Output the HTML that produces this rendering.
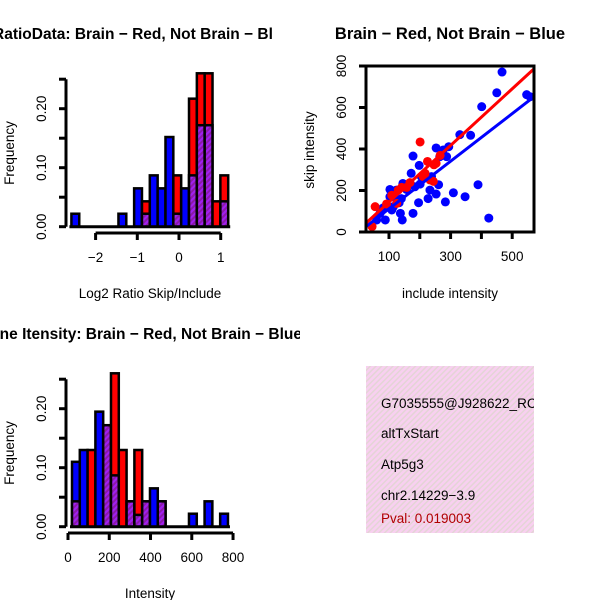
<!DOCTYPE html>
<html><head><meta charset="utf-8"><style>
html,body{margin:0;padding:0;background:#fff;}
svg{display:block;font-family:"Liberation Sans",sans-serif;}
</style></head><body>
<svg id="s" width="600" height="600" viewBox="0 0 600 600">
<defs>
<pattern id="hatch" width="4" height="4" patternUnits="userSpaceOnUse" patternTransform="rotate(45)">
<rect width="4" height="4" fill="#8a1aa8"/><rect width="2" height="4" fill="#a020f0"/></pattern>
<pattern id="pink" width="4" height="4" patternUnits="userSpaceOnUse" patternTransform="rotate(45)">
<rect width="4" height="4" fill="#f8d0f0"/><rect width="1.5" height="4" fill="#e4d4d6"/></pattern>
<clipPath id="clipBox"><rect x="366" y="366" width="168" height="167"/></clipPath>
<clipPath id="clipT1"><rect x="0" y="0" width="273" height="60"/></clipPath>
<clipPath id="clipT3"><rect x="0" y="300" width="300" height="60"/></clipPath>
</defs>
<text x="-7" y="39" font-weight="bold" font-size="15.5" clip-path="url(#clipT1)">RatioData: Brain − Red, Not Brain − Blue</text>
<text x="450" y="39" text-anchor="middle" font-weight="bold" font-size="16.5">Brain − Red, Not Brain − Blue</text>
<text x="-21" y="339" font-weight="bold" font-size="15.5" clip-path="url(#clipT3)">Gene Itensity: Brain − Red, Not Brain − Blue</text>
<text x="150" y="298" text-anchor="middle" font-size="13.5">Log2 Ratio Skip/Include</text>
<text x="150" y="598" text-anchor="middle" font-size="13.5">Intensity</text>
<text transform="translate(14,153) rotate(-90)" text-anchor="middle" font-size="13.5">Frequency</text>
<text transform="translate(14,453) rotate(-90)" text-anchor="middle" font-size="13.5">Frequency</text>
<text x="450" y="298" text-anchor="middle" font-size="13.5">include intensity</text>
<text transform="translate(314,150) rotate(-90)" text-anchor="middle" font-size="13.5">skip intensity</text>
<g>
<rect x="366" y="366" width="168" height="167" fill="url(#pink)"/>
<g clip-path="url(#clipBox)" font-size="13.5">
<text x="381" y="408">G7035555@J928622_RC</text>
<text x="381" y="438">altTxStart</text>
<text x="381" y="469">Atp5g3</text>
<text x="381" y="500">chr2.14229−3.9</text>
<text x="381" y="523" fill="#b00000">Pval: 0.019003</text>
</g></g>
</svg>
<script>
// Ratio histogram data
const ratioBinStart = -2.58, ratioBinWidth = 0.188;
const ratioBlue = [0.022,0,0,0,0,0,0.022,0,0.065,0.022,0.087,0.065,0.152,0.022,0.065,0.087,0.172,0.172,0,0.043];
const ratioRed  = [0,0,0,0,0,0,0,0,0,0.043,0,0,0,0.087,0,0.217,0.26,0.26,0.043,0.087];
const ratioXTicks = [-2,-1,0,1];
const freqTicks = [0,0.05,0.10,0.15,0.20,0.25];
const freqLabels = ["0.00","","0.10","","0.20",""];
// Intensity histogram data
const intBinStart = 19.4, intBinWidth = 37.8;
const intBlue = [0.11,0.13,0,0.195,0.172,0.087,0,0.043,0.02,0.043,0.065,0.043,0,0,0,0.022,0,0.043,0,0.022];
const intRed  = [0.043,0,0.13,0,0.172,0.26,0.13,0.043,0.13,0.043,0,0.043,0,0,0,0,0,0,0,0];
const intXTicks = [0,200,400,600,800];
// Scatter data
const blueX = [467,450,401,547,558,330,365,389,424,347,309,283,253,287,294,261,253,227,233,198,196,201,178,172,178,145,143,137,133,140,124,103,103,81,71,60,88,109,114,125,157,184,205,238,265,276];
const blueY = [771,671,604,662,652,469,466,228,67,170,189,145,405,363,411,228,183,161,202,321,141,231,366,283,90,234,58,90,141,161,202,205,170,116,90,58,58,106,122,154,205,218,267,267,363,395];
const redX = [45,55,92,109,130,141,168,201,225,246,253,233,244,217,211,266,125,157];
const redY = [26,122,135,177,202,215,238,434,340,324,331,251,244,283,267,369,138,215];
const redFit = [8,1.364];   // intercept, slope
const blueFit = [-3,1.147];
const scXTicks = [100,200,300,400,500];
const scXLabels = ["100","","300","","500"];
const scYTicks = [0,200,400,600,800];

const NS="http://www.w3.org/2000/svg", svg=document.getElementById('s');
function mk(tag,attrs,parent){const e=document.createElementNS(NS,tag);for(const k in attrs)e.setAttribute(k,attrs[k]);(parent||svg).appendChild(e);return e;}

function hist(blue,red,bs,bw,xTicks,xs,ys,base,axisY,name,tickLbl){
  const g=mk('g',{});
  
  
  for(let i=0;i<blue.length;i++){
    const b=blue[i],r=red[i],hi=Math.max(b,r),lo=Math.min(b,r);
    if(hi<=0)continue;
    const x0=xs(bs+i*bw),x1=xs(bs+(i+1)*bw);
    const top=mk('rect',{x:x0,y:ys(hi),width:x1-x0,height:ys(0)-ys(hi),fill:b>=r?'#0000ff':'#ff0000',stroke:'#000','stroke-width':2.5},g);
    
    
    if(lo>0){
      const o=mk('rect',{x:x0,y:ys(lo),width:x1-x0,height:ys(0)-ys(lo),fill:'url(#hatch)',stroke:'#000','stroke-width':2.5},g);
      
      
    }
  }
  const ax=66;
  const ya=mk('line',{x1:ax,x2:ax,y1:ys(0),y2:ys(0.25),stroke:'#000','stroke-width':3},g);
  
  
  freqTicks.forEach((t,i)=>{
    mk('line',{x1:ax-7,x2:ax,y1:ys(t),y2:ys(t),stroke:'#000','stroke-width':3},g);
    if(freqLabels[i]){const tx=mk('text',{transform:`translate(46,${ys(t)}) rotate(-90)`,'text-anchor':'middle','font-size':13.5},g);tx.textContent=freqLabels[i];
      
      }
  });
  const base0=mk('line',{x1:xs(bs)-2,x2:xs(bs+blue.length*bw)+2,y1:ys(0),y2:ys(0),stroke:'#000','stroke-width':3},g);
  
  
  const xa=mk('line',{x1:xs(xTicks[0]),x2:xs(xTicks[xTicks.length-1]),y1:axisY,y2:axisY,stroke:'#000','stroke-width':3},g);
  
  
  xTicks.forEach(t=>{
    mk('line',{x1:xs(t),x2:xs(t),y1:axisY,y2:axisY+7,stroke:'#000','stroke-width':3},g);
    const tx=mk('text',{x:xs(t),y:axisY+29,'text-anchor':'middle','font-size':13.5},g);
    tx.textContent=tickLbl(t);
    
    
  });
}
hist(ratioBlue,ratioRed,ratioBinStart,ratioBinWidth,ratioXTicks,v=>179+v*41.7,v=>226.7-v*590,226.7,233,'ratio-histogram',t=>t<0?'−'+(-t):String(t));
hist(intBlue,intRed,intBinStart,intBinWidth,intXTicks,v=>68+v*0.2063,v=>526.7-v*590,526.7,533,'intensity-histogram',t=>String(t));

const sx=v=>389+(v-100)*0.308, sy=v=>232-v*166/800;
const sg=mk('g',{});


blueX.forEach((x,i)=>{const c=mk('circle',{cx:sx(x),cy:sy(blueY[i]),r:4.5,fill:'#0000ff'},sg);
  
  });
redX.forEach((x,i)=>{const c=mk('circle',{cx:sx(x),cy:sy(redY[i]),r:4.5,fill:'#ff0000'},sg);
  
  });
[[blueFit,'#0000ff','fit-line-blue'],[redFit,'#ff0000','fit-line-red']].forEach(([f,col,n])=>{
  const x0=25,x1=571;
  const l=mk('line',{x1:sx(x0),y1:sy(f[0]+f[1]*x0),x2:sx(x1),y2:sy(f[0]+f[1]*x1),stroke:col,'stroke-width':3},sg);
  
  
});
const box=mk('rect',{x:366,y:66,width:168,height:166,fill:'none',stroke:'#000','stroke-width':3},sg);


scXTicks.forEach((t,i)=>{
  mk('line',{x1:sx(t),x2:sx(t),y1:232,y2:239,stroke:'#000','stroke-width':3},sg);
  if(scXLabels[i]){const tx=mk('text',{x:sx(t),y:261,'text-anchor':'middle','font-size':13.5},sg);tx.textContent=scXLabels[i];
    
    }
});
scYTicks.forEach(t=>{
  mk('line',{x1:359,x2:366,y1:sy(t),y2:sy(t),stroke:'#000','stroke-width':3},sg);
  const tx=mk('text',{transform:`translate(346,${sy(t)}) rotate(-90)`,'text-anchor':'middle','font-size':13.5},sg);
  tx.textContent=String(t);
  
  
});
</script>
</body></html>
